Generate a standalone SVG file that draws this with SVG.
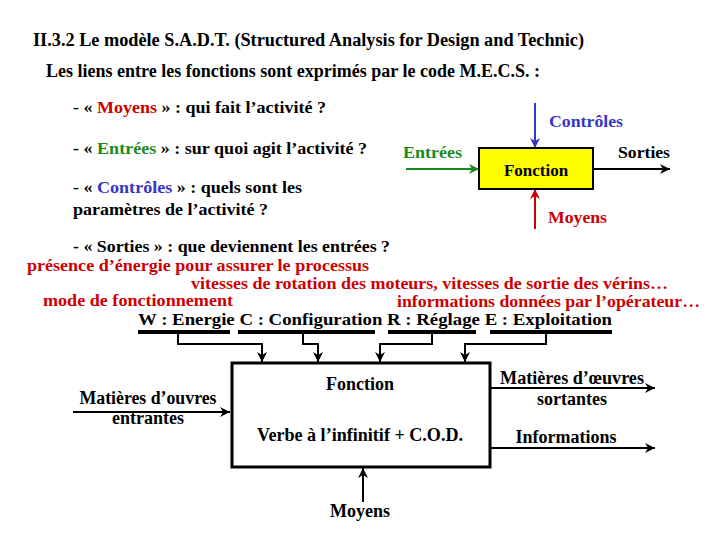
<svg xmlns="http://www.w3.org/2000/svg" width="720" height="540" viewBox="0 0 720 540" font-family="'Liberation Serif', 'DejaVu Serif', serif">
<style>
text{font-family:'Liberation Serif','Tinos','Times New Roman','DejaVu Serif',serif;font-weight:bold;fill:#000}
.t{font-size:18px}
.b{font-size:17px}
.s{font-size:16px}
.m{font-size:18px}
.r{fill:#cc0000}
.g{fill:#1a8a1a}
.u{fill:#3535c8}
.c{text-anchor:middle}
.ln{stroke:#000;stroke-width:2;fill:none}
.bar{stroke:#000;stroke-width:4;fill:none}
</style>
<defs>
<marker id="ak" viewBox="0 0 10 10" refX="10" refY="5" markerWidth="10" markerHeight="10" markerUnits="userSpaceOnUse" orient="auto"><path d="M0,0 L10,5 L0,10 L3,5 z" fill="#000"/></marker>
<marker id="ag" viewBox="0 0 10 10" refX="10" refY="5" markerWidth="10" markerHeight="10" markerUnits="userSpaceOnUse" orient="auto"><path d="M0,0 L10,5 L0,10 L3,5 z" fill="#1a8a1a"/></marker>
<marker id="ab" viewBox="0 0 10 10" refX="10" refY="5" markerWidth="10" markerHeight="10" markerUnits="userSpaceOnUse" orient="auto"><path d="M0,0 L10,5 L0,10 L3,5 z" fill="#3535c8"/></marker>
<marker id="ar" viewBox="0 0 10 10" refX="10" refY="5" markerWidth="10" markerHeight="10" markerUnits="userSpaceOnUse" orient="auto"><path d="M0,0 L10,5 L0,10 L3,5 z" fill="#cc0000"/></marker>
</defs>
<rect width="720" height="540" fill="#fff"/>

<g id="header">
<text class="t" x="33" y="46" textLength="551" lengthAdjust="spacingAndGlyphs">II.3.2  Le modèle S.A.D.T. (Structured Analysis for Design and Technic)</text>
<text class="t" x="46" y="77" textLength="494" lengthAdjust="spacingAndGlyphs">Les liens entre les fonctions sont exprimés par le code M.E.C.S. :</text>
</g>

<g id="definitions">
<text class="b" x="73" y="113" textLength="253" lengthAdjust="spacingAndGlyphs">- « <tspan class="r">Moyens</tspan> » : qui fait l’activité ?</text>
<text class="b" x="73" y="154" textLength="294" lengthAdjust="spacingAndGlyphs">- « <tspan class="g">Entrées</tspan> » : sur quoi agit l’activité ?</text>
<text class="b" x="73" y="193" textLength="229" lengthAdjust="spacingAndGlyphs">- « <tspan class="u">Contrôles</tspan> » : quels sont les</text>
<text class="b" x="73" y="215" textLength="195" lengthAdjust="spacingAndGlyphs">paramètres de l’activité ?</text>
<text class="b" x="73" y="252" textLength="317" lengthAdjust="spacingAndGlyphs">- « Sorties » : que deviennent les entrées ?</text>
</g>

<g id="small-connectors">
<line x1="535" y1="103" x2="535" y2="148" stroke="#3535c8" stroke-width="2" marker-end="url(#ab)"/>
<line x1="406" y1="169" x2="479" y2="169" stroke="#1a8a1a" stroke-width="2" marker-end="url(#ag)"/>
<line x1="593" y1="169" x2="670" y2="169" stroke="#000" stroke-width="2" marker-end="url(#ak)"/>
<line x1="535" y1="229" x2="535" y2="189" stroke="#cc0000" stroke-width="2" marker-end="url(#ar)"/>
</g>
<g id="small-fonction">
<rect x="479" y="148" width="114" height="41" fill="#ffff00" stroke="#000" stroke-width="2"/>
<text class="b c" x="536" y="176">Fonction</text>
</g>
<g id="small-labels">
<text class="b u" x="549" y="127" textLength="74" lengthAdjust="spacingAndGlyphs">Contrôles</text>
<text class="b g" x="403" y="158" textLength="59" lengthAdjust="spacingAndGlyphs">Entrées</text>
<text class="b" x="618" y="158" textLength="52" lengthAdjust="spacingAndGlyphs">Sorties</text>
<text class="b r" x="548" y="223" textLength="59" lengthAdjust="spacingAndGlyphs">Moyens</text>
</g>

<g id="examples">
<text class="s r" x="27" y="271" textLength="342" lengthAdjust="spacingAndGlyphs">présence d’énergie pour assurer le processus</text>
<text class="s r" x="191" y="289" textLength="477" lengthAdjust="spacingAndGlyphs">vitesses de rotation des moteurs, vitesses de sortie des vérins…</text>
<text class="s r" x="43" y="306" textLength="190" lengthAdjust="spacingAndGlyphs">mode de fonctionnement</text>
<text class="s r" x="397" y="307" textLength="303" lengthAdjust="spacingAndGlyphs">informations données par l’opérateur…</text>
<text class="b" x="138" y="325" textLength="474" lengthAdjust="spacingAndGlyphs">W : Energie  C : Configuration   R : Réglage   E : Exploitation</text>
</g>

<g id="connectors">
<path class="bar" d="M138,332 H230 M238,332 H375 M388,332 H476 M490,332 H612"/>
<path class="ln" d="M178,332 V344 H262 V362" marker-end="url(#ak)"/>
<path class="ln" d="M303,332 V344 H318 V362" marker-end="url(#ak)"/>
<path class="ln" d="M432,332 V344 H380 V362" marker-end="url(#ak)"/>
<path class="ln" d="M546,332 V344 H465 V362" marker-end="url(#ak)"/>
<line class="ln" x1="73" y1="412" x2="230" y2="412" marker-end="url(#ak)"/>
<line class="ln" x1="491" y1="388" x2="655" y2="388" marker-end="url(#ak)"/>
<line class="ln" x1="491" y1="448" x2="655" y2="448" marker-end="url(#ak)"/>
<line class="ln" x1="363" y1="502" x2="363" y2="468" marker-end="url(#ak)"/>
</g>

<g id="fonction">
<rect x="232" y="363" width="258" height="104" fill="#fff" stroke="#000" stroke-width="3"/>
<text class="m c" x="360" y="390">Fonction</text>
<text class="m c" x="360" y="441" textLength="206" lengthAdjust="spacingAndGlyphs">Verbe à l’infinitif + C.O.D.</text>
</g>

<g id="labels">
<text class="m c" x="148" y="404" textLength="137" lengthAdjust="spacingAndGlyphs">Matières d’ouvres</text>
<text class="m c" x="148" y="424">entrantes</text>
<text class="m c" x="572" y="384" textLength="144" lengthAdjust="spacingAndGlyphs">Matières d’œuvres</text>
<text class="m c" x="572" y="405">sortantes</text>
<text class="m c" x="566" y="443">Informations</text>
<text class="m c" x="360" y="517">Moyens</text>
</g>
</svg>
